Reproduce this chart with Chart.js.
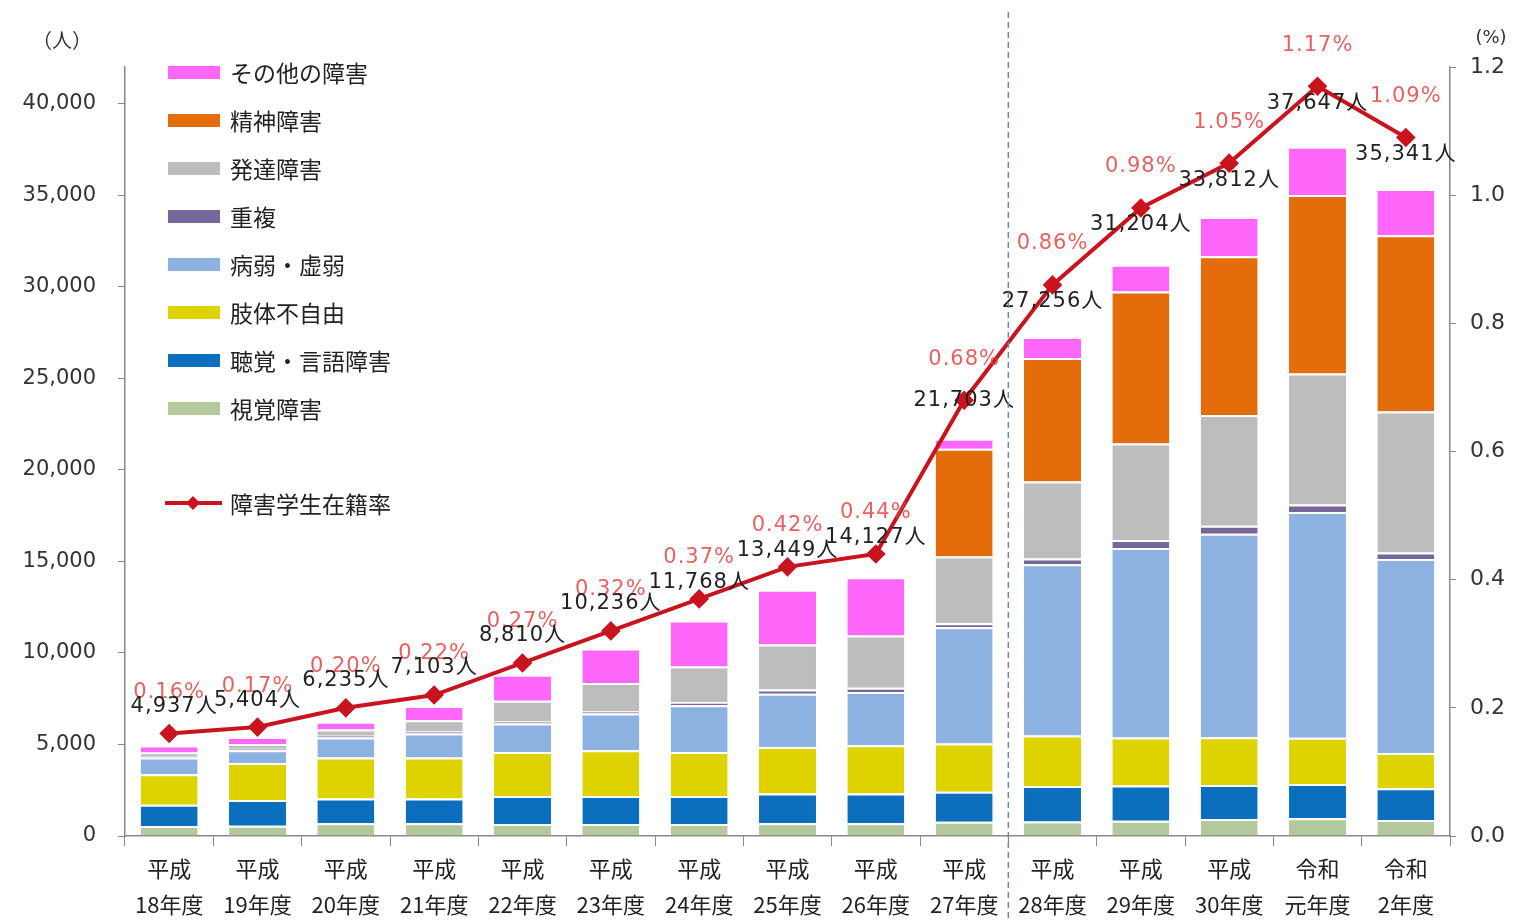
<!DOCTYPE html>
<html lang="ja">
<head>
<meta charset="utf-8">
<script src="https://cdn.jsdelivr.net/npm/chart.js@4.4.1/dist/chart.umd.min.js"></script>
<style>
  html, body { margin: 0; padding: 0; background: #fff; }
  #wrap { width: 1517px; height: 922px; position: relative; }
</style>
</head>
<body>
<div id="wrap"><canvas id="chart"></canvas></div>
<script>
// 年度
const years = [
  ['平成', '18年度'], ['平成', '19年度'], ['平成', '20年度'], ['平成', '21年度'],
  ['平成', '22年度'], ['平成', '23年度'], ['平成', '24年度'], ['平成', '25年度'],
  ['平成', '26年度'], ['平成', '27年度'], ['平成', '28年度'], ['平成', '29年度'],
  ['平成', '30年度'], ['令和', '元年度'], ['令和', '2年度']
];

// 障害種別ごとの人数（下から積み上げ）
const shikaku   = [545, 560, 690, 690, 654, 654, 654, 690, 690, 780, 797, 836, 926, 963, 880];
const choukaku  = [1160, 1400, 1364, 1364, 1526, 1526, 1526, 1636, 1636, 1635, 1929, 1924, 1853, 1872, 1733];
const shitai    = [1670, 2030, 2235, 2235, 2414, 2507, 2414, 2541, 2633, 2635, 2768, 2614, 2616, 2531, 1925];
const byoujaku  = [910, 690, 1090, 1308, 1546, 1999, 2545, 2908, 2907, 6356, 9353, 10350, 11117, 12329, 10587];
const chofuku   = [90, 90, 100, 110, 120, 110, 180, 230, 230, 220, 314, 439, 436, 413, 358];
const hattatsu  = [180, 260, 340, 615, 1130, 1560, 1945, 2458, 2858, 3633, 4194, 5270, 6049, 7155, 7700];
const seishin   = [null, null, null, null, null, null, null, null, null, 5885, 6753, 8301, 8665, 9742, 9625];
const sonota    = [382, 374, 416, 781, 1420, 1880, 2504, 2986, 3173, 559, 1148, 1470, 2150, 2642, 2533];

// 合計人数と在籍率
const totals = [4937, 5404, 6235, 7103, 8810, 10236, 11768, 13449, 14127, 21703, 27256, 31204, 33812, 37647, 35341];
const rate = [0.16, 0.17, 0.20, 0.22, 0.27, 0.32, 0.37, 0.42, 0.44, 0.68, 0.86, 0.98, 1.05, 1.17, 1.09];

const leftTicks = [0, 5000, 10000, 15000, 20000, 25000, 30000, 35000, 40000];

const NUM_FONT = '"DejaVu Sans", "Noto Sans CJK JP", sans-serif';
const JP_FONT = '"Noto Sans CJK JP", "DejaVu Sans", sans-serif';

function barSet(label, data, color) {
  return {
    type: 'bar',
    label: label,
    data: data,
    backgroundColor: color,
    borderColor: '#ffffff',
    borderWidth: { top: 2, left: 0, right: 0, bottom: 0 },
    borderSkipped: false,
    yAxisID: 'y',
    stack: 's',
    order: 2
  };
}

const datasets = [
  barSet('視覚障害', shikaku, '#b3c89d'),
  barSet('聴覚・言語障害', choukaku, '#0b6fbd'),
  barSet('肢体不自由', shitai, '#dcd300'),
  barSet('病弱・虚弱', byoujaku, '#8db1e0'),
  barSet('重複', chofuku, '#75679a'),
  barSet('発達障害', hattatsu, '#bdbdbd'),
  barSet('精神障害', seishin, '#e36c0b'),
  barSet('その他の障害', sonota, '#ff66fa'),
  {
    type: 'line',
    label: '障害学生在籍率',
    data: rate,
    yAxisID: 'y1',
    borderColor: '#c8141e',
    backgroundColor: '#c8141e',
    borderWidth: 4,
    pointStyle: 'rectRot',
    pointRadius: 7,
    pointBackgroundColor: '#c8141e',
    pointBorderColor: '#c8141e',
    tension: 0,
    order: 0
  }
];

// ラベル（在籍率と合計人数）
const labelPlugin = {
  id: 'valueLabels',
  afterDatasetsDraw(chart) {
    const ctx = chart.ctx;
    const meta = chart.getDatasetMeta(datasets.length - 1);
    ctx.save();
    ctx.textAlign = 'center';
    ctx.textBaseline = 'middle';
    ctx.letterSpacing = '1px';
    meta.data.forEach((pt, i) => {
      ctx.font = '21px ' + NUM_FONT;
      ctx.fillStyle = 'rgba(222, 70, 70, 0.85)';
      ctx.fillText(rate[i].toFixed(2) + '%', pt.x, pt.y - 41);
      let dy;
      if (i < 6) dy = -27;
      else if (i < 9) dy = -16;
      else if (i === 9) dy = 0;
      else dy = 17;
      ctx.fillStyle = '#222';
      ctx.fillText(totals[i].toLocaleString('en-US') + '人', pt.x + (i === 0 ? 5 : 0), pt.y + dy);
    });
    ctx.restore();
  }
};

// 凡例・区切り線・単位
const decoPlugin = {
  id: 'deco',
  afterDraw(chart) {
    const ctx = chart.ctx;
    const xs = chart.scales.x;
    ctx.save();

    // 平成27年度と28年度の間の破線
    const xm = (xs.getPixelForValue(9) + xs.getPixelForValue(10)) / 2;
    ctx.strokeStyle = '#6f88ad';
    ctx.lineWidth = 1.5;
    ctx.setLineDash([6, 4]);
    ctx.beginPath();
    ctx.moveTo(xm, 12);
    ctx.lineTo(xm, 922);
    ctx.stroke();
    ctx.setLineDash([]);

    // 単位
    ctx.fillStyle = '#333';
    ctx.font = '20px ' + JP_FONT;
    ctx.textAlign = 'center';
    ctx.textBaseline = 'middle';
    ctx.fillText('（人）', 62, 40);
    ctx.font = '18px ' + NUM_FONT;
    ctx.fillText('(%)', 1491, 38);

    // 凡例
    const bars = chart.data.datasets.filter(d => d.type === 'bar').slice().reverse();
    ctx.textAlign = 'left';
    ctx.font = '23px ' + JP_FONT;
    bars.forEach((d, k) => {
      const y = 72 + k * 48;
      ctx.fillStyle = d.backgroundColor;
      ctx.fillRect(168, y - 6, 52, 13);
      ctx.fillStyle = '#222';
      ctx.fillText(d.label, 230, y + 1);
    });
    const line = chart.data.datasets.find(d => d.type === 'line');
    const ly = 503;
    ctx.strokeStyle = line.borderColor;
    ctx.lineWidth = 4;
    ctx.beginPath();
    ctx.moveTo(165, ly);
    ctx.lineTo(222, ly);
    ctx.stroke();
    ctx.fillStyle = line.borderColor;
    ctx.beginPath();
    ctx.moveTo(193, ly - 7);
    ctx.lineTo(200, ly);
    ctx.lineTo(193, ly + 7);
    ctx.lineTo(186, ly);
    ctx.closePath();
    ctx.fill();
    ctx.fillStyle = '#222';
    ctx.fillText(line.label, 230, ly + 1);

    ctx.restore();
  }
};

new Chart(document.getElementById('chart'), {
  data: { labels: years, datasets: datasets },
  plugins: [labelPlugin, decoPlugin],
  options: {
    responsive: true,
    maintainAspectRatio: false,
    animation: false,
    layout: { padding: { top: 67, right: 0, left: 0, bottom: 0 } },
    plugins: {
      legend: { display: false },
      tooltip: { enabled: false }
    },
    datasets: {
      bar: { categoryPercentage: 1, barPercentage: 0.645 }
    },
    scales: {
      x: {
        stacked: true,
        grid: { display: true, drawOnChartArea: false, offset: true, tickLength: 10, color: '#888' },
        border: { color: '#888', width: 1.5 },
        ticks: {
          color: '#222',
          padding: 4,
          maxRotation: 0,
          autoSkip: false,
          font: { family: JP_FONT, size: 22, lineHeight: 1.65 }
        },
        afterFit(scale) { scale.height = 86; }
      },
      y: {
        stacked: true,
        position: 'left',
        min: 0,
        max: 42000,
        afterBuildTicks(scale) { scale.ticks = leftTicks.map(v => ({ value: v })); },
        grid: { drawOnChartArea: false, tickLength: 7, color: '#888' },
        border: { color: '#888', width: 1.5 },
        ticks: {
          color: '#333',
          padding: 22,
          font: { family: NUM_FONT, size: 21 },
          callback: v => v.toLocaleString('en-US')
        },
        afterFit(scale) { scale.width = 125; }
      },
      y1: {
        position: 'right',
        min: 0,
        max: 1.2,
        grid: { drawOnChartArea: false, tickLength: 6, color: '#888' },
        border: { color: '#888', width: 1.5 },
        ticks: {
          color: '#333',
          stepSize: 0.2,
          padding: 14,
          font: { family: NUM_FONT, size: 22 },
          callback: v => Number(v).toFixed(1)
        },
        afterFit(scale) { scale.width = 67; }
      }
    }
  }
});
</script>
</body>
</html>
